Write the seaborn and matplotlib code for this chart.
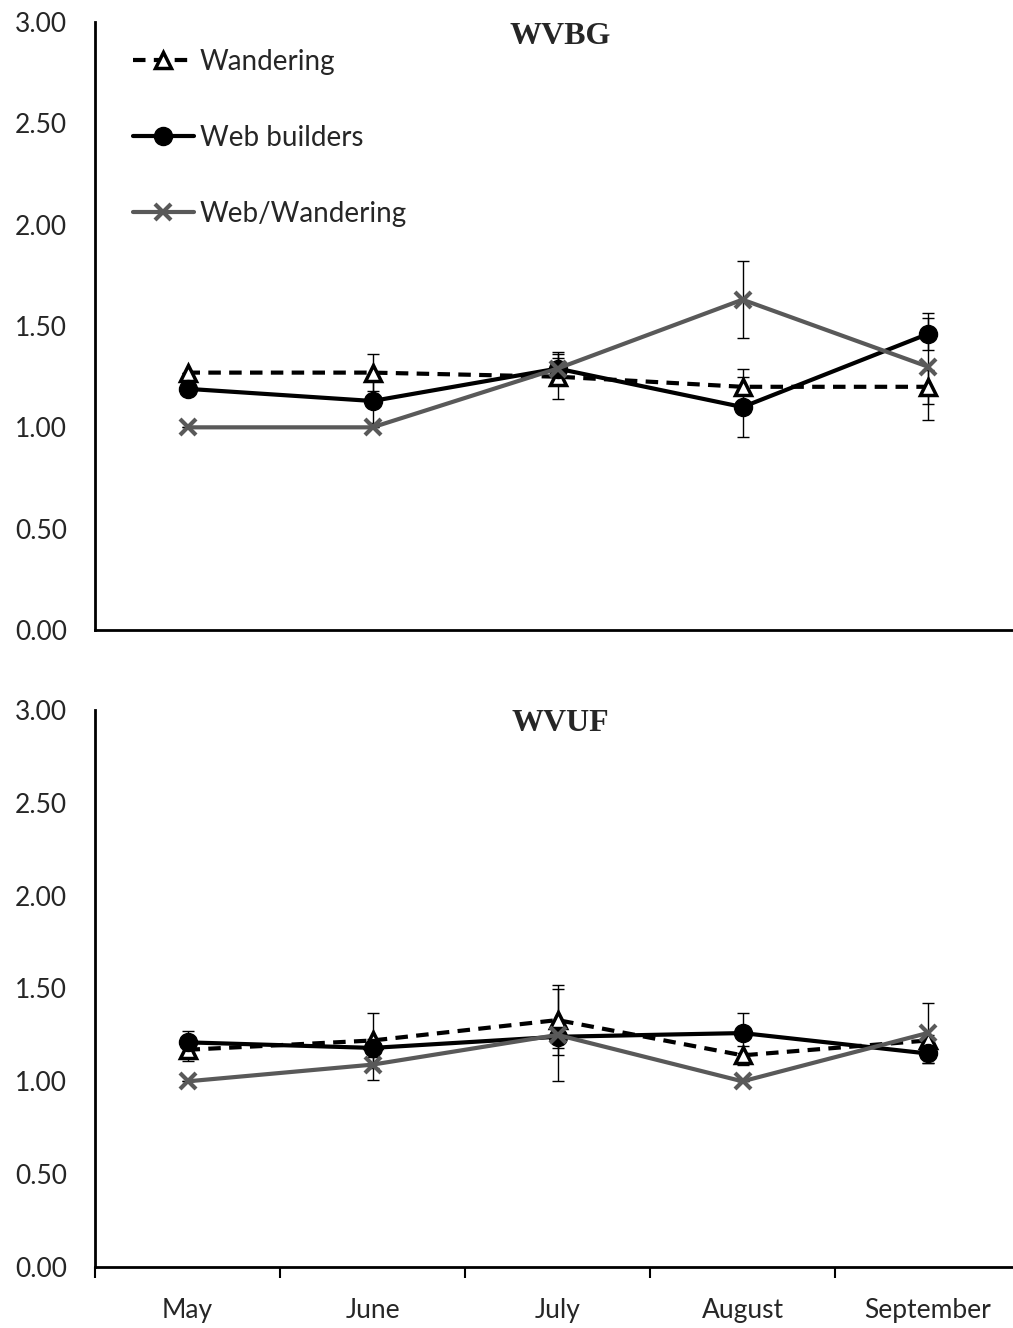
import numpy as np
import pandas as pd
import matplotlib
matplotlib.use("Agg")
import matplotlib.pyplot as plt
from matplotlib.ticker import FixedLocator, NullFormatter
import seaborn as sns

# Data
months = ["May", "June", "July", "August", "September"]
series_names = ["Wandering", "Web builders", "Web/Wandering"]

# WVBG (top panel)
wander_bg = [1.27, 1.27, 1.25, 1.20, 1.20]
wander_bg_err = [0.0, 0.09, 0.11, 0.09, 0.085]
web_bg = [1.19, 1.13, 1.29, 1.10, 1.46]
web_bg_err = [0.0, 0.11, 0.08, 0.15, 0.08]
ww_bg = [1.00, 1.00, 1.29, 1.63, 1.30]
ww_bg_err = [0.0, 0.0, 0.05, 0.19, 0.265]

# WVUF (bottom panel)
wander_uf = [1.17, 1.22, 1.33, 1.14, 1.22]
wander_uf_err = [0.06, 0.15, 0.19, 0.05, 0.03]
web_uf = [1.21, 1.18, 1.24, 1.26, 1.15]
web_uf_err = [0.06, 0.05, 0.06, 0.11, 0.05]
ww_uf = [1.00, 1.09, 1.25, 1.00, 1.26]
ww_uf_err = [0.0, 0.085, 0.25, 0.0, 0.16]

yticks = [0.0, 0.5, 1.0, 1.5, 2.0, 2.5, 3.0]

sns.set_theme(style="white")
plt.rcParams["font.family"] = ["Lato", "DejaVu Sans"]

GREY = "#595959"
styles = {
    "Wandering": dict(color="black", linestyle=(0, (3, 2)), marker="^", markersize=11,
                      markerfacecolor="white", markeredgecolor="black", markeredgewidth=2.5),
    "Web builders": dict(color="black", linestyle="-", marker="o", markersize=13,
                         markerfacecolor="black", markeredgecolor="black", markeredgewidth=1),
    "Web/Wandering": dict(color=GREY, linestyle="-", marker="x", markersize=12,
                          markeredgecolor=GREY, markeredgewidth=3),
}

x_pos = np.arange(len(months)) + 0.5


def draw_panel(ax, title, vals, errs, show_legend, show_xlabels):
    for name, v, e in zip(series_names, vals, errs):
        ax.errorbar(x_pos, v, yerr=e, fmt="none", ecolor="black", elinewidth=1,
                    capsize=4, capthick=1, zorder=1)
    for i, (name, v) in enumerate(zip(series_names, vals)):
        df = pd.DataFrame({"x": x_pos, "y": v})
        sns.lineplot(data=df, x="x", y="y", ax=ax, label=name, linewidth=3,
                     zorder=3 + i, **styles[name])

    ax.set_xlim(0, len(months))
    ax.set_ylim(0, 3)
    ax.set_yticks(yticks)
    ax.set_yticklabels([f"{t:.2f}" for t in yticks])
    ax.set_xlabel("")
    ax.set_ylabel("")
    for s in ["top", "right"]:
        ax.spines[s].set_visible(False)
    for s in ["left", "bottom"]:
        ax.spines[s].set_color("black")
        ax.spines[s].set_linewidth(2)
    ax.tick_params(axis="y", length=0, pad=20, labelsize=19)

    if show_xlabels:
        ax.xaxis.set_major_locator(FixedLocator(np.arange(len(months) + 1)))
        ax.xaxis.set_major_formatter(NullFormatter())
        ax.xaxis.set_minor_locator(FixedLocator(x_pos))
        ax.set_xticklabels(months, minor=True)
        ax.tick_params(axis="x", which="major", length=8, width=1.5, color="black",
                       direction="out", bottom=True)
        ax.tick_params(axis="x", which="minor", length=0, pad=22, labelsize=19,
                       bottom=True)
    else:
        ax.set_xticks([])

    ax.text(0.503, 0.976, title, transform=ax.transAxes, ha="center", va="center",
            fontsize=23, fontweight="bold", family="Liberation Serif")

    if show_legend:
        ax.legend(loc="upper left", bbox_to_anchor=(0.029, 0.974), frameon=False,
                  fontsize=20, handlelength=2.2, handletextpad=0.2,
                  labelspacing=1.8, borderaxespad=0)
    else:
        leg = ax.get_legend()
        if leg is not None:
            leg.remove()


fig = plt.figure(figsize=(10.13, 13.28), dpi=100)
W = 1013.0
H = 1328.0
ax_top = fig.add_axes([95 / W, (H - 630) / H, 925 / W, 608 / H])
ax_bot = fig.add_axes([95 / W, (H - 1267) / H, 925 / W, 557 / H])

draw_panel(ax_top, "WVBG", [wander_bg, web_bg, ww_bg],
           [wander_bg_err, web_bg_err, ww_bg_err], True, False)
draw_panel(ax_bot, "WVUF", [wander_uf, web_uf, ww_uf],
           [wander_uf_err, web_uf_err, ww_uf_err], False, True)

fig.savefig("out.png", dpi=100)
